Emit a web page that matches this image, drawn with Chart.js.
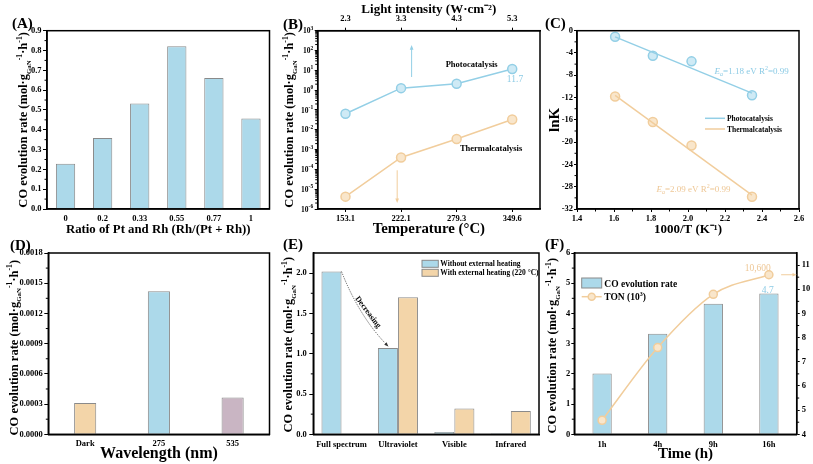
<!DOCTYPE html>
<html>
<head>
<meta charset="utf-8">
<script src="https://cdn.jsdelivr.net/npm/chart.js@4.4.1/dist/chart.umd.min.js"></script>
<style>
html, body { margin: 0; padding: 0; background: #fff; }
#wrap { position: relative; width: 813px; height: 464px; overflow: hidden; }
#wrap canvas { position: absolute; left: 0; top: 0; }
</style>
</head>
<body>
<div id="wrap">
  <canvas id="chartA" width="813" height="464"></canvas>
  <canvas id="chartB" width="813" height="464"></canvas>
  <canvas id="chartC" width="813" height="464"></canvas>
  <canvas id="chartD" width="813" height="464"></canvas>
  <canvas id="chartE" width="813" height="464"></canvas>
  <canvas id="chartF" width="813" height="464"></canvas>
</div>
<script>
// (A) Pt/Rh ratio
const ratioLabels = ['0', '0.2', '0.33', '0.55', '0.77', '1'];
const ratioRates = [0.229, 0.358, 0.532, 0.822, 0.661, 0.457];

// (B) temperature / light intensity (log axis)
const tempLabels = ['153.1', '222.1', '279.3', '349.6'];
const lightLabels = ['2.3', '3.3', '4.3', '5.3'];
const photoRates = [0.064, 1.26, 2.1, 11.7];
const thermalRates = [4.2e-6, 4.0e-4, 3.4e-3, 3.3e-2];
const decadeTicks = [1e-6, 1e-5, 1e-4, 1e-3, 1e-2, 1e-1, 1, 10, 100, 1000];

// (C) Arrhenius
const invTemp = [1.606, 1.810, 2.019, 2.346];
const photoLnK = [-1.1, -4.5, -5.5, -11.6];
const thermalLnK = [-11.8, -16.4, -20.6, -29.8];
const photoFit = [-1.1, -11.2];
const thermalFit = [-11.6, -29.5];

// (D) wavelength
const waveLabels = ['Dark', '275', '535'];
const waveRates = [0.00031, 0.00142, 0.000365];

// (E) spectrum ranges
const bandLabels = ['Full spectrum', 'Ultraviolet', 'Visible', 'Infrared'];
const noHeatRates = [2.02, 1.07, 0.03, 0.012];
const heatRates = [null, 1.70, 0.32, 0.29];

// (F) time course
const timeLabels = ['1h', '4h', '9h', '16h'];
const coRates = [2.01, 3.33, 4.32, 4.66];
const tonValues = [4.58, 7.59, 9.79, 10.6];

const SERIF = '"Liberation Serif", "Times New Roman", serif';
const BLUE = '#acd9ea', BLUE_LINE = '#93cfe6', BLUE_FILL = '#cfeaf5', BLUE_TEXT = '#8ccbe5';
const ORANGE = '#f3d5a9', ORANGE_LINE = '#f1cd9c', ORANGE_FILL = '#f9e6cb', ORANGE_TEXT = '#eec796';
const MAUVE = '#c9b5c3';
const EDGE = '#8a8a8a';

Chart.defaults.font.family = SERIF;
Chart.defaults.font.weight = 'bold';
Chart.defaults.font.size = 8.5;
Chart.defaults.color = '#000';
Chart.defaults.animation = false;
Chart.defaults.responsive = false;
Chart.defaults.plugins.legend.display = false;
Chart.defaults.plugins.tooltip.enabled = false;

function fontOf(p) {
    return (p.it ? 'italic ' : '') + (p.w || 'bold') + ' ' + p.s + 'px ' + SERIF;
}

function richText(ctx, parts, x, y, opt = {}) {
    ctx.save();
    ctx.translate(x, y);
    ctx.rotate(opt.rot || 0);
    ctx.fillStyle = opt.color || '#000';
    ctx.textBaseline = 'alphabetic';
    ctx.textAlign = 'left';
    let total = 0;
    parts.forEach(p => { ctx.font = fontOf(p); total += ctx.measureText(p.t).width; });
    let cx = opt.align === 'left' ? 0 : opt.align === 'right' ? -total : -total / 2;
    let base = opt.base || 0;
    parts.forEach(p => {
        ctx.font = fontOf(p);
        ctx.fillText(p.t, cx, base + (p.dy || 0));
        cx += ctx.measureText(p.t).width;
    });
    ctx.restore();
}

function text(ctx, t, x, y, opt = {}) {
    let s = opt.size || 8.5;
    richText(ctx, [{t: t, s: s, w: opt.w, it: opt.it}], x, y,
        {color: opt.color, align: opt.align, rot: opt.rot, base: s * 0.35});
}

function arrowHead(ctx, x, y, ang, head) {
    ctx.beginPath();
    ctx.moveTo(x, y);
    ctx.lineTo(x - head * Math.cos(ang - 0.38), y - head * Math.sin(ang - 0.38));
    ctx.lineTo(x - head * Math.cos(ang + 0.38), y - head * Math.sin(ang + 0.38));
    ctx.closePath();
    ctx.fill();
}

function arrow(ctx, x1, y1, x2, y2, color, head) {
    let ang = Math.atan2(y2 - y1, x2 - x1);
    ctx.save();
    ctx.strokeStyle = color;
    ctx.fillStyle = color;
    ctx.lineWidth = 1;
    ctx.beginPath();
    ctx.moveTo(x1, y1);
    ctx.lineTo(x2 - Math.cos(ang) * head * 0.7, y2 - Math.sin(ang) * head * 0.7);
    ctx.stroke();
    arrowHead(ctx, x2, y2, ang, head);
    ctx.restore();
}

function rateTitle(S) {
    return [
        {t: 'CO evolution rate (mol·g', s: S},
        {t: 'GaN', s: S * 0.55, dy: S * 0.25},
        {t: '-1', s: S * 0.62, dy: -S * 0.42},
        {t: '·h', s: S},
        {t: '-1', s: S * 0.62, dy: -S * 0.42},
        {t: ')', s: S}
    ];
}

// box round the plot area + minor ticks
Chart.register({
    id: 'frame',
    afterDraw(chart, args, o) {
        const {ctx, chartArea: a} = chart;
        ctx.save();
        ctx.strokeStyle = '#000';
        ctx.lineWidth = 1.5;
        ctx.strokeRect(a.left, a.top, a.right - a.left, a.bottom - a.top);
        ctx.lineWidth = 1;
        let minor = (s, vals) => {
            vals.forEach(v => {
                let p = s.getPixelForValue(v);
                ctx.beginPath();
                if (s.position === 'left') { ctx.moveTo(s.right - 2.5, p); ctx.lineTo(s.right, p); }
                else if (s.position === 'right') { ctx.moveTo(s.left, p); ctx.lineTo(s.left + 2.5, p); }
                else { ctx.moveTo(p, s.top); ctx.lineTo(p, s.top + 2.5); }
                ctx.stroke();
            });
        };
        let mids = s => {
            let out = [];
            for (let i = 0; i < s.ticks.length - 1; i++) out.push((s.ticks[i].value + s.ticks[i + 1].value) / 2);
            return out;
        };
        if (o.minorY === 'linear') minor(chart.scales.y, mids(chart.scales.y));
        if (o.minorY === 'log') {
            let out = [];
            chart.scales.y.ticks.slice(0, -1).forEach(t => { for (let k = 2; k < 10; k++) out.push(t.value * k); });
            minor(chart.scales.y, out);
        }
        if (o.minorX) minor(chart.scales.x, mids(chart.scales.x));
        if (o.minorY1) minor(chart.scales.y1, mids(chart.scales.y1));
        ctx.restore();
    }
});

// panel letter and rotated y title
Chart.register({
    id: 'panel',
    afterDraw(chart, args, o) {
        if (!o.letter) return;
        const {ctx, chartArea: a} = chart;
        text(ctx, o.letter, a.left + o.lx, a.top + o.ly, {size: 15, align: 'left'});
        let parts = o.plain ? [{t: o.plain, s: o.size}] : rateTitle(o.size);
        richText(ctx, parts, a.left + o.tx, (a.top + a.bottom) / 2 + o.ty,
            {rot: -Math.PI / 2, base: o.size * 0.35});
    }
});

function valueAxis(o) {
    return {
        type: o.type || 'linear',
        position: o.position || 'left',
        min: o.min,
        max: o.max,
        border: {color: '#000', width: 1.5},
        grid: {drawOnChartArea: false, color: '#000', tickLength: o.tl},
        ticks: {stepSize: o.step, includeBounds: false, padding: o.pad, display: o.fmt !== null,
                callback: o.fmt || undefined, autoSkip: false},
        afterBuildTicks: o.tickValues ? s => { s.ticks = o.tickValues.map(v => ({value: v})); } : undefined,
        afterFit: s => { s.width = o.width; }
    };
}

function catAxis(o) {
    return {
        type: 'category',
        position: o.position || 'bottom',
        labels: o.labels,
        offset: true,
        border: {color: '#000', width: 1.5},
        grid: {display: !!o.tl, drawTicks: !!o.tl, drawOnChartArea: false, color: '#000',
               tickLength: o.tl || 0, offset: false},
        ticks: {padding: o.pad, autoSkip: false, maxRotation: 0},
        title: {display: !!o.title, text: o.title, color: '#000',
                padding: {top: o.titlePad || 0, bottom: 0}, font: {size: o.titleSize, weight: 'bold'}},
        afterFit: s => { s.height = o.height; }
    };
}

// ---------- (A)
new Chart(document.getElementById('chartA'), {
    type: 'bar',
    data: {
        labels: ratioLabels,
        datasets: [{data: ratioRates, backgroundColor: BLUE, borderColor: EDGE, borderWidth: 1,
                     barPercentage: 0.52, categoryPercentage: 1}]
    },
    options: {
        layout: {padding: {left: 0, top: 30.7, right: 543.5, bottom: 226.9}},
        scales: {
            x: catAxis({height: 28.1, pad: 4.9, title: 'Ratio of Pt and Rh (Rh/(Pt + Rh))', titleSize: 12.8}),
            y: valueAxis({min: 0, max: 0.9, step: 0.1, width: 47, tl: 4, pad: 1.5, fmt: v => v.toFixed(1)})
        },
        plugins: {
            frame: {minorY: 'linear'},
            panel: {letter: '(A)', lx: -35, ly: -7.7, size: 12.5, tx: -24, ty: 0}
        }
    }
});

// ---------- (B)
new Chart(document.getElementById('chartB'), {
    type: 'line',
    data: {
        labels: tempLabels,
        datasets: [
            {data: photoRates, borderColor: BLUE_LINE, backgroundColor: BLUE_FILL, borderWidth: 1.5,
             pointRadius: 4.5, pointBorderWidth: 1.5, pointBackgroundColor: BLUE_FILL, pointBorderColor: BLUE_LINE},
            {data: thermalRates, borderColor: ORANGE_LINE, backgroundColor: ORANGE_FILL, borderWidth: 1.5,
             pointRadius: 4.5, pointBorderWidth: 1.5, pointBackgroundColor: ORANGE_FILL, pointBorderColor: ORANGE_LINE}
        ]
    },
    options: {
        layout: {padding: {left: 270, top: 0, right: 273, bottom: 226.1}},
        scales: {
            x: catAxis({height: 28.9, tl: 3, pad: 2, title: 'Temperature (°C)', titleSize: 14.8}),
            x2: catAxis({position: 'top', labels: lightLabels, height: 30.7, tl: 3, pad: 4.3,
                         title: 'Light intensity (W·cm⁻²)', titleSize: 13, titlePad: 2.2}),
            y: valueAxis({type: 'logarithmic', min: 1e-6, max: 1e3, width: 47.7, tl: 3, pad: 1.5,
                          fmt: null, tickValues: decadeTicks})
        },
        plugins: {
            frame: {minorY: 'log'},
            panel: {letter: '(B)', lx: -34.7, ly: -6.7, size: 12.5, tx: -28.7, ty: 0}
        }
    },
    plugins: [{
        id: 'decorB',
        afterDraw(chart) {
            const {ctx, scales: {x, y}} = chart;
            y.ticks.forEach(t => {
                let e = Math.round(Math.log10(t.value));
                richText(ctx, [{t: '10', s: 7.5}, {t: String(e), s: 5.5, dy: -3.5}],
                    y.right - 4.5, y.getPixelForValue(t.value), {align: 'right', base: 2.6});
            });
            arrow(ctx, x.getPixelForValue(1.19), y.getPixelForValue(4.6),
                x.getPixelForValue(1.19), y.getPixelForValue(190), BLUE_LINE, 5);
            arrow(ctx, x.getPixelForValue(0.93), y.getPixelForValue(9e-5),
                x.getPixelForValue(0.93), y.getPixelForValue(2e-6), ORANGE_LINE, 5);
            text(ctx, 'Photocatalysis', x.getPixelForValue(2.27), y.getPixelForValue(21), {size: 8.5});
            text(ctx, 'Thermalcatalysis', x.getPixelForValue(2.62), y.getPixelForValue(1.2e-3), {size: 8.5});
            text(ctx, '11.7', x.getPixelForValue(3.05), y.getPixelForValue(3.6),
                {size: 9.5, w: 'normal', color: BLUE_TEXT});
        }
    }]
});

// ---------- (C)
let pointsOf = (xs, ys) => xs.map((v, i) => ({x: v, y: ys[i]}));
let fitOf = ys => [{x: invTemp[0], y: ys[0]}, {x: invTemp[invTemp.length - 1], y: ys[1]}];

new Chart(document.getElementById('chartC'), {
    type: 'scatter',
    data: {
        datasets: [
            {data: fitOf(photoFit), showLine: true, pointRadius: 0, borderColor: BLUE_LINE, borderWidth: 1.5},
            {data: fitOf(thermalFit), showLine: true, pointRadius: 0, borderColor: ORANGE_LINE, borderWidth: 1.5},
            {data: pointsOf(invTemp, photoLnK), pointRadius: 4.5, borderWidth: 1.5,
             backgroundColor: BLUE_FILL, borderColor: BLUE_LINE},
            {data: pointsOf(invTemp, thermalLnK), pointRadius: 4.5, borderWidth: 1.5,
             backgroundColor: ORANGE_FILL, borderColor: ORANGE_LINE}
        ]
    },
    options: {
        layout: {padding: {left: 541, top: 30.7, right: 14, bottom: 226.7}},
        scales: {
            x: {
                type: 'linear', position: 'bottom', min: 1.4, max: 2.6,
                border: {color: '#000', width: 1.5},
                grid: {drawOnChartArea: false, color: '#000', tickLength: 3},
                ticks: {stepSize: 0.2, includeBounds: false, padding: 2, callback: v => v.toFixed(1)},
                title: {display: true, text: '1000/T (K⁻¹)', padding: 0, font: {size: 13, weight: 'bold'}},
                afterFit: s => { s.height = 28.3; }
            },
            y: valueAxis({min: -32, max: 0, step: 4, width: 36, tl: 3, pad: 1, fmt: v => String(v)})
        },
        plugins: {
            frame: {minorY: 'linear', minorX: true},
            panel: {letter: '(C)', lx: -32, ly: -7.7, size: 15, tx: -23, ty: 0, plain: 'lnK'}
        }
    },
    plugins: [{
        id: 'decorC',
        afterDraw(chart) {
            const {ctx, chartArea: a, scales: {x, y}} = chart;
            let ea = (val) => [
                {t: 'E', s: 9, w: 'normal', it: true},
                {t: 'a', s: 6, w: 'normal', it: true, dy: 2},
                {t: '=' + val + ' eV R', s: 9, w: 'normal'},
                {t: '2', s: 6, w: 'normal', dy: -4},
                {t: '=0.99', s: 9, w: 'normal'}
            ];
            richText(ctx, ea('1.18'), x.getPixelForValue(2.344), y.getPixelForValue(-7.25),
                {color: BLUE_TEXT, base: 3});
            richText(ctx, ea('2.09'), x.getPixelForValue(2.03), y.getPixelForValue(-28.5),
                {color: ORANGE_TEXT, base: 3});
            // legend
            [['Photocatalysis', BLUE_LINE, 87.6], ['Thermalcatalysis', ORANGE_LINE, 98.3]].forEach(r => {
                ctx.save();
                ctx.strokeStyle = r[1];
                ctx.lineWidth = 1.5;
                ctx.beginPath();
                ctx.moveTo(a.left + 128, a.top + r[2]);
                ctx.lineTo(a.left + 148, a.top + r[2]);
                ctx.stroke();
                ctx.restore();
                text(ctx, r[0], a.left + 150, a.top + r[2], {size: 7.5, align: 'left'});
            });
        }
    }]
});

// ---------- (D)
new Chart(document.getElementById('chartD'), {
    type: 'bar',
    data: {
        labels: waveLabels,
        datasets: [{data: waveRates, backgroundColor: [ORANGE, BLUE, MAUVE], borderColor: EDGE, borderWidth: 1,
                     barPercentage: 0.3, categoryPercentage: 1}]
    },
    options: {
        layout: {padding: {left: 0, top: 253, right: 543.5, bottom: 0.7}},
        scales: {
            x: catAxis({height: 29, pad: 4.6, title: 'Wavelength (nm)', titleSize: 16}),
            y: valueAxis({min: 0, max: 0.0018, step: 0.0003, width: 48.3, tl: 4, pad: 1.5, fmt: v => v.toFixed(4)})
        },
        plugins: {
            frame: {minorY: 'linear'},
            panel: {letter: '(D)', lx: -38.3, ly: -8, size: 12.5, tx: -35, ty: 4}
        }
    }
});

// ---------- (E)
new Chart(document.getElementById('chartE'), {
    type: 'bar',
    data: {
        labels: bandLabels,
        datasets: [
            {data: noHeatRates, backgroundColor: BLUE, borderColor: EDGE, borderWidth: 1,
             barPercentage: 1, categoryPercentage: 0.71},
            {data: heatRates, backgroundColor: ORANGE, borderColor: EDGE, borderWidth: 1,
             barPercentage: 1, categoryPercentage: 0.71}
        ]
    },
    options: {
        layout: {padding: {left: 270, top: 253, right: 274, bottom: 9.7}},
        scales: {
            x: catAxis({height: 20, pad: 4.9}),
            y: valueAxis({min: 0, max: 2.25, step: 0.5, width: 43.3, tl: 4, pad: 2.5, fmt: v => v.toFixed(1)})
        },
        plugins: {
            frame: {minorY: 'linear'},
            panel: {letter: '(E)', lx: -30.3, ly: -9, size: 12.5, tx: -25.3, ty: 1}
        }
    },
    plugins: [{
        id: 'decorE',
        afterDraw(chart) {
            const {ctx, chartArea: a, scales: {x, y}} = chart;
            let p0 = [x.getPixelForValue(0), y.getPixelForValue(noHeatRates[0])];
            let c = [x.getPixelForValue(0.32), y.getPixelForValue(1.45)];
            let p2 = [x.getPixelForValue(0.83), y.getPixelForValue(1.09)];
            ctx.save();
            ctx.strokeStyle = '#333';
            ctx.fillStyle = '#333';
            ctx.lineWidth = 0.8;
            ctx.setLineDash([1.2, 1.2]);
            ctx.beginPath();
            ctx.moveTo(p0[0], p0[1]);
            ctx.quadraticCurveTo(c[0], c[1], p2[0], p2[1]);
            ctx.stroke();
            ctx.setLineDash([]);
            arrowHead(ctx, p2[0], p2[1], Math.atan2(p2[1] - c[1], p2[0] - c[0]), 4.5);
            ctx.restore();
            text(ctx, 'Decreasing', x.getPixelForValue(0.48), y.getPixelForValue(1.52), {size: 8, rot: 0.93});
            // legend
            [['Without external heating', BLUE, 7.3], ['With external heating (220 °C)', ORANGE, 16.3]].forEach(r => {
                ctx.save();
                ctx.fillStyle = r[1];
                ctx.strokeStyle = EDGE;
                ctx.lineWidth = 1;
                ctx.fillRect(a.left + 108.7, a.top + r[2], 16.3, 7);
                ctx.strokeRect(a.left + 108.7, a.top + r[2], 16.3, 7);
                ctx.restore();
                text(ctx, r[0], a.left + 127, a.top + r[2] + 3.5, {size: 7.5, align: 'left'});
            });
        }
    }]
});

// ---------- (F)
new Chart(document.getElementById('chartF'), {
    type: 'bar',
    data: {
        labels: timeLabels,
        datasets: [
            {type: 'line', data: tonValues, yAxisID: 'y1', order: 0, borderColor: ORANGE_LINE, borderWidth: 1.5,
             cubicInterpolationMode: 'monotone', pointRadius: 4, pointBorderWidth: 1.5,
             pointBackgroundColor: ORANGE_FILL, pointBorderColor: ORANGE_LINE},
            {data: coRates, yAxisID: 'y', order: 1, backgroundColor: BLUE, borderColor: EDGE, borderWidth: 1,
             barPercentage: 0.347, categoryPercentage: 1}
        ]
    },
    options: {
        layout: {padding: {left: 540, top: 253, right: 0, bottom: 1.3}},
        scales: {
            x: catAxis({height: 28.4, pad: 4.9, title: 'Time (h)', titleSize: 15}),
            y: valueAxis({min: 0, max: 6, step: 1, width: 34.3, tl: 3, pad: 1, fmt: v => String(v)}),
            y1: valueAxis({position: 'right', min: 4, max: 11.5, step: 1, width: 16.3, tl: 3, pad: 2,
                           fmt: v => String(v)})
        },
        plugins: {
            frame: {minorY: 'linear', minorY1: true},
            panel: {letter: '(F)', lx: -29.3, ly: -9, size: 12.5, tx: -22.3, ty: 2}
        }
    },
    plugins: [{
        id: 'decorF',
        afterDraw(chart) {
            const {ctx, chartArea: a, scales: {x, y, y1}} = chart;
            let p = y1.getPixelForValue(tonValues[tonValues.length - 1]);
            arrow(ctx, x.getPixelForValue(3.22), p, a.right, p, ORANGE_LINE, 4.5);
            text(ctx, '10,600', x.getPixelForValue(2.8), y1.getPixelForValue(10.9),
                {size: 9.5, w: 'normal', color: ORANGE_TEXT});
            text(ctx, '4.7', x.getPixelForValue(2.98), y.getPixelForValue(4.8),
                {size: 9.5, w: 'normal', color: BLUE_TEXT});
            // legend
            ctx.save();
            ctx.fillStyle = BLUE;
            ctx.strokeStyle = EDGE;
            ctx.lineWidth = 1;
            ctx.fillRect(a.left + 7.4, a.top + 25, 20, 10);
            ctx.strokeRect(a.left + 7.4, a.top + 25, 20, 10);
            ctx.strokeStyle = ORANGE_LINE;
            ctx.lineWidth = 1.5;
            ctx.beginPath();
            ctx.moveTo(a.left + 7.4, a.top + 43.7);
            ctx.lineTo(a.left + 27.4, a.top + 43.7);
            ctx.stroke();
            ctx.fillStyle = ORANGE_FILL;
            ctx.beginPath();
            ctx.arc(a.left + 17.4, a.top + 43.7, 3.5, 0, Math.PI * 2);
            ctx.fill();
            ctx.stroke();
            ctx.restore();
            text(ctx, 'CO evolution rate', a.left + 30, a.top + 30.3, {size: 9.5, align: 'left'});
            richText(ctx, [{t: 'TON (10', s: 9.5}, {t: '3', s: 6, dy: -4}, {t: ')', s: 9.5}],
                a.left + 30, a.top + 43.7, {align: 'left', base: 3.3});
        }
    }]
});
</script>
</body>
</html>
